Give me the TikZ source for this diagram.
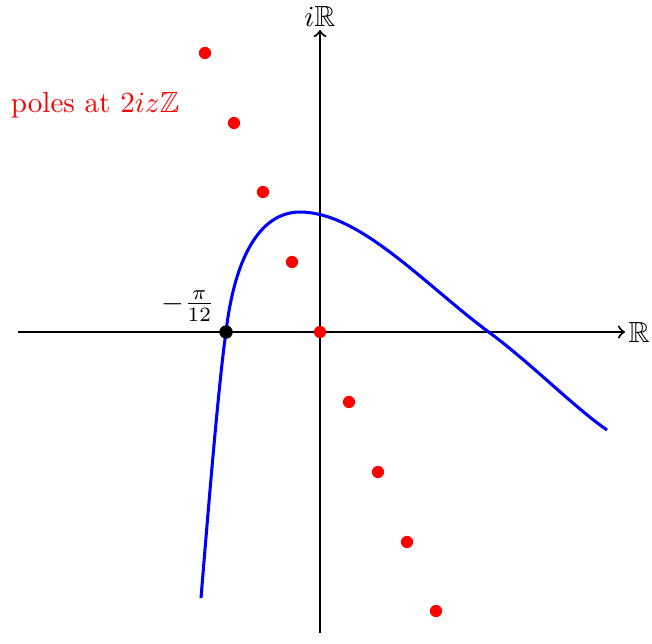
\documentclass[tikz,border=0pt]{standalone}
\usepackage{amssymb}
\tikzset{
  axis/.style={line width=0.7pt,->},
  pole/.style={circle,fill=red,inner sep=0pt,minimum size=4.2pt},
  curve/.style={blue,line width=1.05pt},
}
\begin{document}
\begin{tikzpicture}[x=0.343pt,y=-0.343pt]
\useasboundingbox (0,0) rectangle (652,643);
% axes
\coordinate (xl) at (18,332);
\coordinate (xr) at (625,332);
\coordinate (yb) at (320,633);
\coordinate (yt) at (320,30);
\draw[axis] (xl) -- (xr);
\draw[axis] (yb) -- (yt);
\node[anchor=west,inner sep=1pt] (lx) at (xr) {$\mathbb{R}$};
\node[anchor=south,inner sep=1pt] (ly) at (yt) {$i\mathbb{R}$};
% curve
\coordinate (c0) at (201,598);
\coordinate (c1) at (226,332);
\coordinate (c2) at (300,212);
\coordinate (c3) at (490,333);
\coordinate (c4) at (607,430);
\draw[curve] (c0) .. controls (209,500) and (219,380) .. (c1)
  .. controls (234,262) and (258,212) .. (c2)
  .. controls (360,212) and (425,285) .. (c3)
  .. controls (530,362.5) and (575,408) .. (c4);
% poles
\foreach \i/\px/\py in {1/205/53,2/234/123,3/263/192,4/292/262,5/320/332,6/349/402,7/378/472,8/407/542,9/436/611}{
  \node[pole] (p\i) at (\px,\py) {};
}
% black point
\node[circle,fill=black,inner sep=0pt,minimum size=4.6pt] (z) at (c1) {};
\node[inner sep=0pt] (zl) at (188,306) {$-\frac{\pi}{12}$};
\node[red,inner sep=0pt] (poles) at (95,105) {poles at $2iz\mathbb{Z}$};
\end{tikzpicture}
\end{document}
